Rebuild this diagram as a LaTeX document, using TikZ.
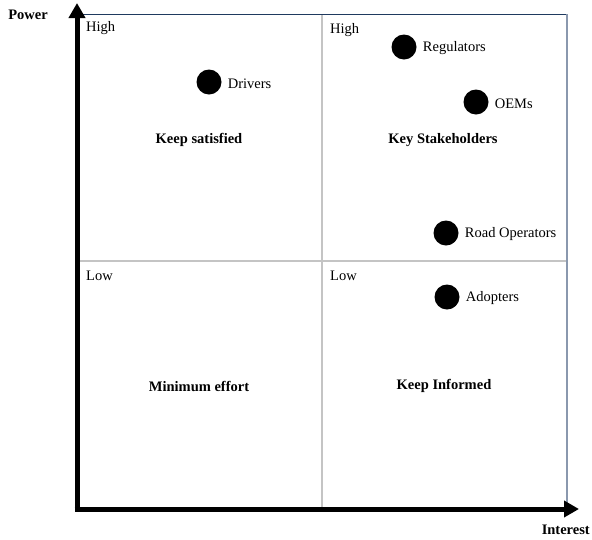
\documentclass[tikz,border=0pt]{standalone}
\usepackage{fontspec}
\setmainfont{Liberation Serif}
\usepackage{tikz}
\usetikzlibrary{arrows.meta, positioning}

\definecolor{topline}{HTML}{1F3A5F}
\definecolor{sideline}{HTML}{8A98AE}
\definecolor{gridline}{HTML}{C4C4C4}

\begin{document}
\begin{tikzpicture}[x=1pt,y=-1pt,
                    dot node/.style={circle,fill=black,inner sep=0pt,minimum size=25pt},
                    who/.style={inner sep=1pt,yshift=-1.5pt,font=\fontsize{14.5}{16}\selectfont},
                    corner/.style={anchor=west,inner sep=0pt,font=\fontsize{14.5}{16}\selectfont},
                    quad/.style={inner sep=0pt,font=\fontsize{14.5}{16}\selectfont\bfseries},
                    axis/.style={line width=5pt,-{Triangle[length=15pt,width=16pt]}}]
        \useasboundingbox (0,0) rectangle (592,539);

        % quadrant frame
        \draw[gridline,line width=1.2pt] (322,14) -- (322,507);
        \draw[gridline,line width=1.2pt] (77,261) -- (567,261);
        \draw[topline,line width=1pt] (77,14) -- (567,14);
        \draw[sideline,line width=2pt] (567,14) -- (567,507);

        % axes
        \coordinate (o) at (77,509);
        \coordinate (py) at (77,3);
        \coordinate (px) at (579,509);
        \draw[axis] (o) -- (py);
        \draw[axis] ([xshift=-2.5pt]o) -- (px);
        \node[quad] (power) at (28,15) {Power};
        \node[quad,anchor=east] (interest) at (590,530) {Interest};

        % corner labels
        \node[corner] (h1) at (86,28) {High};
        \node[corner] (h2) at (330,30) {High};
        \node[corner] (l1) at (86,276) {Low};
        \node[corner] (l2) at (330,276) {Low};

        % quadrant names
        \node[quad] (q1) at (199,140) {Keep satisfied};
        \node[quad] (q2) at (443,140) {Key Stakeholders};
        \node[quad] (q3) at (199,386) {Minimum effort};
        \node[quad] (q4) at (444,386) {Keep Informed};

        % stakeholders
        \node[dot node] (s1) at (209,82) {};
        \node[dot node] (s2) at (404,47) {};
        \node[dot node] (s3) at (476,102) {};
        \node[dot node] (s4) at (446,233) {};
        \node[dot node] (s5) at (447,297) {};
        \node[who] (t1) [right=5pt of s1] {Drivers};
        \node[who] (t2) [right=5pt of s2] {Regulators};
        \node[who] (t3) [right=5pt of s3] {OEMs};
        \node[who] (t4) [right=5pt of s4] {Road Operators};
        \node[who] (t5) [right=5pt of s5] {Adopters};
\end{tikzpicture}
\end{document}
